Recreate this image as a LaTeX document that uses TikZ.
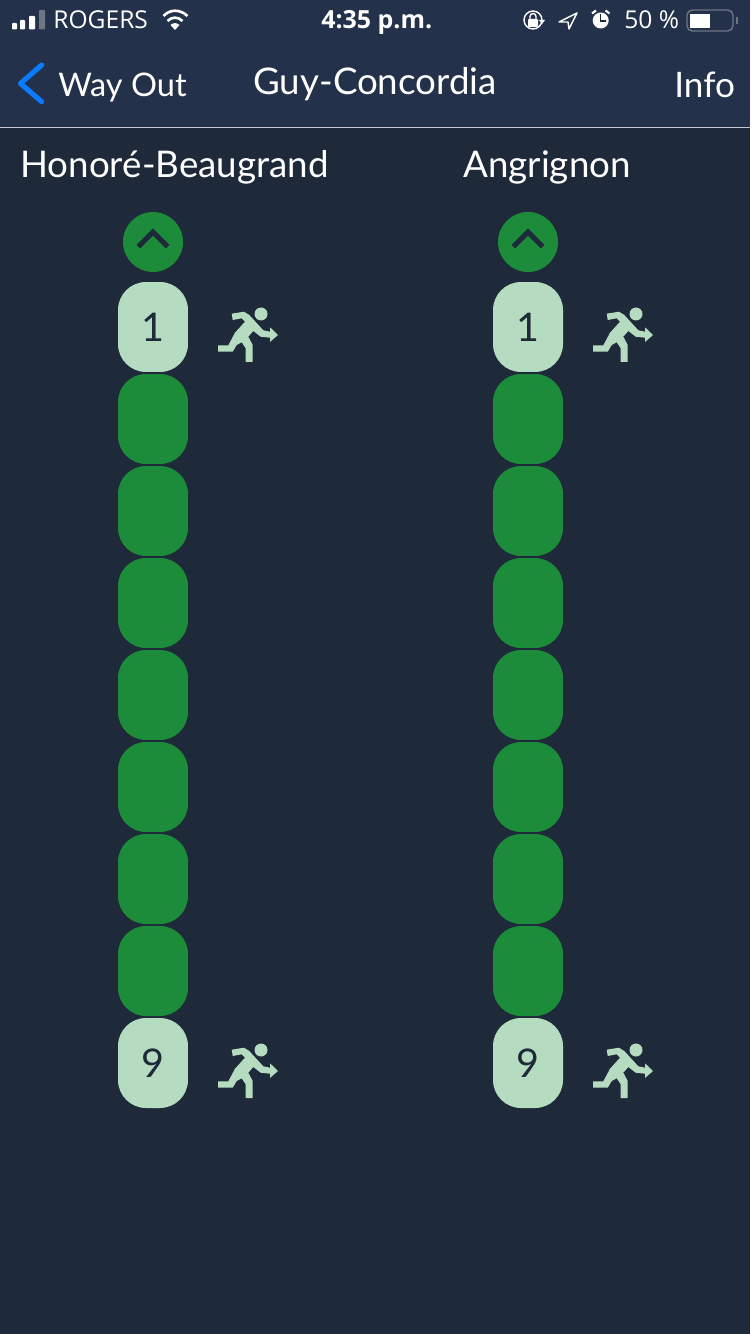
\documentclass[tikz,border=0pt]{standalone}
\usepackage{fontspec}
\setsansfont{Lato}
\newfontfamily\barfont{Open Sans}
\usetikzlibrary{arrows.meta, positioning, calc}

\begin{document}
\begin{tikzpicture}[
    x=0.02cm, y=-0.02cm,
    every node/.style={font=\sffamily},
]

% ---------------------------------------------------------------- colours
\definecolor{pagebg}{HTML}{1E2939}
\definecolor{headbg}{HTML}{24314A}
\definecolor{rulecol}{HTML}{C4C8CE}
\definecolor{cargreen}{HTML}{1C8C3A}
\definecolor{carlight}{HTML}{B5DCC0}
\definecolor{backblue}{HTML}{0A7AFF}
\definecolor{bargray}{HTML}{6E7683}

% ---------------------------------------------------------------- styles
\tikzset{
    car/.style={rectangle, rounded corners=0.56cm, minimum width=1.4cm,
                minimum height=1.8cm, inner sep=0pt, fill=cargreen},
    exitcar/.style={car, fill=carlight, text=pagebg,
                    font=\sffamily\fontsize{22.5}{22.5}\selectfont},
    updot/.style={circle, minimum size=1.2cm, inner sep=0pt, fill=cargreen},
    headtext/.style={anchor=base west, text=white, inner sep=0pt,
                     font=\sffamily\fontsize{20.9}{20.9}\selectfont},
    navtext/.style={headtext, font=\sffamily\fontsize{18.5}{18.5}\selectfont},
    bartext/.style={anchor=base west, text=white, inner sep=0pt,
                    font=\barfont\fontsize{14}{14}\selectfont},
    baricon/.style={white, line width=0.8pt},
    runner/.pic={
        \fill[carlight] (78.7,-13.3) -- (91,-15.3) -- (96.3,-12) -- (110.3,3.3)
            -- (117,4.7) -- (117,0.3) -- (125,8) -- (117,15) -- (117,10.7)
            -- (107.7,9.7) -- (100.3,4) -- (95.3,9.7) -- (99.7,18) -- (99.7,35)
            -- (92.7,35) -- (92.7,21.3) -- (88.7,15.3) -- (83.7,18) -- (79.7,24.7)
            -- (65,24.7) -- (65,18.3) -- (75.3,18.3) -- (82,5.7) -- (92,-5.3)
            -- (88.7,-8.7) -- (79.7,-7) -- cycle;
        \fill[carlight] (108,-13) circle (6.5);
    },
    upchevron/.pic={
        \draw[pagebg, line width=2.9pt] (-14.7,4.7) -- (0,-10) -- (14.7,4.7);
    },
}

% ---------------------------------------------------------------- page
\useasboundingbox (0,0) rectangle (750,1334);
\fill[pagebg] (0,0) rectangle (750,1334);
\fill[headbg] (0,0) rectangle (750,127);
\draw[rulecol, line width=0.6pt] (0,127.5) -- (750,127.5);

% ----------------------------------------------------------------------
% status bar
% ----------------------------------------------------------------------
\fill[white, rounded corners=0.5pt] (12,23) rectangle (17,29.5);
\fill[white, rounded corners=0.5pt] (20,20) rectangle (25,29.5);
\fill[white, rounded corners=0.5pt] (29,16) rectangle (35,29.5);
\fill[bargray, rounded corners=0.5pt] (39,10) rectangle (45,29.5);
\node[bartext] (carrier) at (53,29) {ROGERS};

% wifi
\draw[white, line width=1.5pt] (163.5,16) .. controls (170,9) and (180,9) .. (187.5,16);
\draw[white, line width=1.5pt] (167.5,21) .. controls (172,16.5) and (178,16.5) .. (182.5,21);
\fill[white] (170.5,25) .. controls (173,22.5) and (177,22.5) .. (179.5,25) -- (175,30) -- cycle;

\node[bartext, font=\barfont\bfseries\fontsize{14.2}{14.2}\selectfont] (clock) at (321,29) {4:35 p.m.};

% rotation lock
\draw[baricon] (533,20) circle (9);
\fill[white, rounded corners=0.5pt] (528,19) rectangle (538,27);
\draw[white, line width=0.8pt] (530,19) -- (530,16.5) .. controls (530,12.5) and (536,12.5) .. (536,16.5) -- (536,19);
\fill[white] (539,20) -- (545,20) -- (542,24) -- cycle;

% location arrow
\draw[baricon, line join=round] (559,22) -- (577,13) -- (569,29) -- (568,22) -- cycle;

% alarm
\fill[white] (600.7,20.5) circle (8);
\draw[pagebg, line width=0.8pt] (600.7,14.5) -- (600.7,21) -- (605.5,21);
\draw[white, line width=1.2pt] (592,13.5) -- (596,10.5);
\draw[white, line width=1.2pt] (609.5,13.5) -- (605.5,10.5);

\node[bartext] (percent) at (624,29) {50 \%};

% battery
\draw[bargray, line width=0.8pt, rounded corners=3pt] (687,10) rectangle (733,31);
\fill[white] (690,14) rectangle (710,28);
\fill[bargray] (736,17) rectangle (738,24);

% ----------------------------------------------------------------------
% navigation bar
% ----------------------------------------------------------------------
\draw[backblue, line width=2.9pt, line cap=round, line join=round]
    (41.7,65) -- (20.5,83.5) -- (41.7,101.7);
\node[navtext] (back) at (58,97) {Way Out};
\node[headtext] (station) at (253,95) {Guy-Concordia};
\node[navtext, font=\sffamily\fontsize{20}{20}\selectfont] (info) at (674,98) {Info};

% ----------------------------------------------------------------------
% the two platforms
% ----------------------------------------------------------------------
\node[headtext] (dirl) at (20,178) {Honoré-Beaugrand};
\node[headtext] (dirr) at (463,178) {Angrignon};

\foreach \col/\xc in {l/153, r/528} {
    \node[updot] (up\col) at (\xc,242) {};
    \pic at (up\col.center) {upchevron};

    \node[exitcar] (\col1) at (\xc,327) {1};
    \foreach \n in {2,...,8} {
        \node[car] (\col\n) at (\xc,{327+92*(\n-1)}) {};
    }
    \node[exitcar] (\col9) at (\xc,1063) {9};

    \pic at (\col1.center) {runner};
    \pic at (\col9.center) {runner};
}

\end{tikzpicture}
\end{document}
